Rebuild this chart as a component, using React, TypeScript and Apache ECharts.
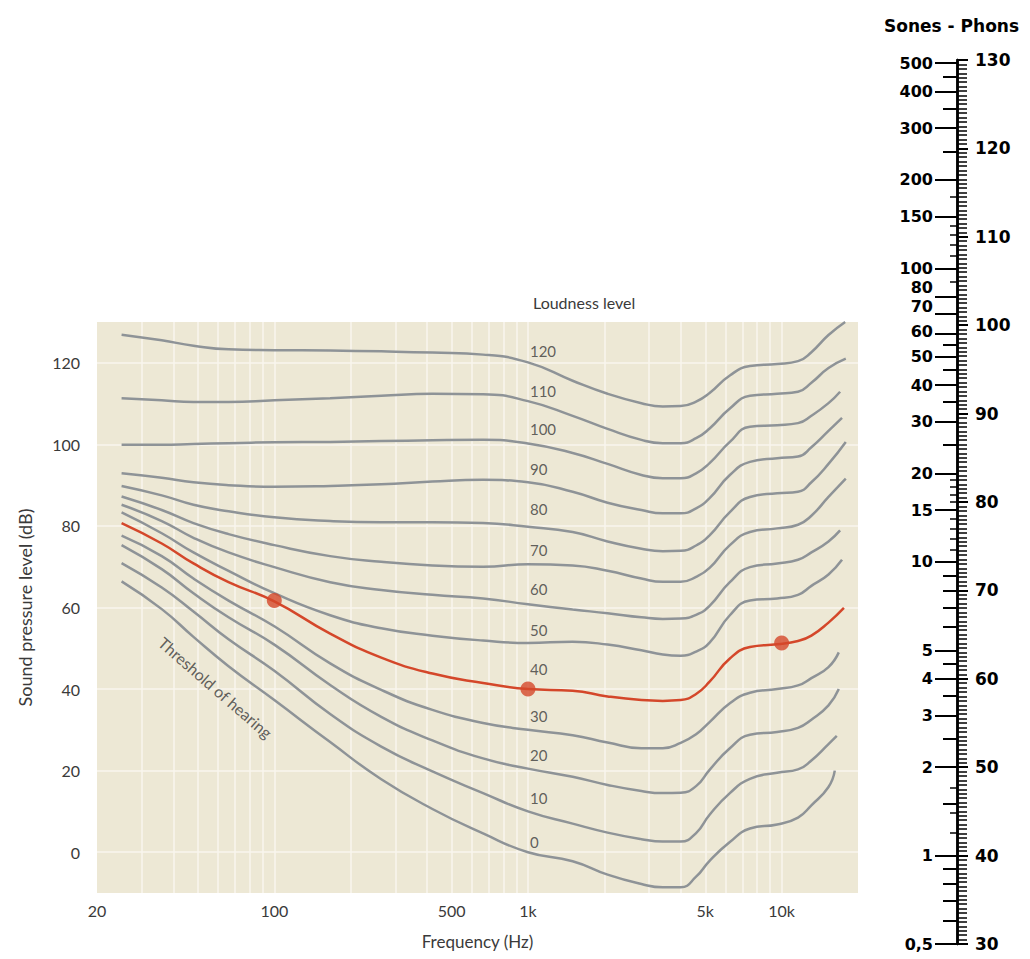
import React, { useEffect, useRef } from 'react';
import * as echarts from 'echarts';

// ---- Equal-loudness contours (frequency grid in Hz, levels in dB SPL) ----
const FREQ = [25, 36, 48, 66, 100, 166, 264, 420, 665, 1000, 1500, 2060, 2800, 3400, 4000, 4600, 5200, 6250, 7500, 9600, 11600, 13100, 15300];

const L120 = [126.9, 125.5, 124.2, 123.3, 123.1, 123.0, 122.8, 122.5, 122.0, 120.1, 115.6, 112.4, 110.1, 109.3, 109.4, 110.5, 112.6, 116.9, 119.2, 119.7, 120.4, 122.6, 126.8];
const L110 = [111.3, 110.8, 110.4, 110.4, 110.8, 111.3, 111.9, 112.4, 112.3, 110.6, 107.0, 103.8, 101.1, 100.3, 100.3, 101.5, 103.9, 108.8, 111.9, 112.4, 112.9, 115.1, 118.7];
const L100 = [99.9, 99.9, 100.1, 100.3, 100.5, 100.6, 100.8, 101.0, 101.1, 100.2, 97.9, 95.2, 92.5, 91.7, 91.7, 92.9, 95.4, 100.6, 104.3, 104.7, 105.2, 107.0, 110.1];
const L90 = [92.9, 91.8, 90.7, 90.0, 89.6, 89.8, 90.2, 90.9, 91.3, 90.7, 88.4, 85.7, 83.9, 83.1, 83.1, 84.3, 86.8, 92.5, 95.7, 96.6, 97.0, 99.3, 103.3];
const L80 = [89.8, 87.5, 85.2, 83.6, 82.1, 81.2, 80.9, 80.9, 80.7, 79.8, 78.5, 76.2, 74.4, 73.8, 73.9, 75.2, 77.7, 83.4, 87.1, 88.0, 88.4, 90.7, 95.2];
const L70 = [87.2, 83.9, 80.7, 78.0, 75.3, 72.6, 71.2, 70.3, 70.0, 70.6, 70.3, 69.0, 67.1, 66.3, 66.3, 67.5, 69.7, 75.3, 78.5, 79.4, 80.3, 82.5, 87.1];
const L60 = [85.2, 81.2, 77.1, 73.5, 69.9, 66.2, 64.3, 63.1, 62.2, 60.8, 59.5, 58.6, 57.6, 57.2, 57.3, 58.2, 60.4, 66.2, 69.9, 70.8, 71.7, 73.5, 76.2];
const L50 = [83.3, 78.2, 73.5, 69.0, 63.5, 58.1, 54.9, 53.1, 51.9, 51.3, 51.6, 50.9, 49.5, 48.5, 48.2, 49.2, 51.4, 58.1, 61.7, 62.2, 63.1, 65.3, 68.1];
const L40 = [80.7, 75.7, 70.8, 66.2, 61.5, 53.6, 47.7, 43.8, 41.5, 40.0, 39.6, 38.2, 37.3, 37.1, 37.3, 38.8, 41.8, 47.5, 50.3, 51.0, 51.8, 53.1, 56.3];
const L30 = [77.6, 72.6, 67.1, 61.7, 55.4, 46.3, 39.8, 34.9, 31.7, 30.0, 28.7, 26.9, 25.5, 25.5, 26.8, 28.9, 31.9, 36.5, 39.1, 40.0, 40.9, 42.7, 45.4];
const L20 = [75.3, 69.4, 63.5, 57.6, 50.9, 41.0, 33.2, 27.4, 23.0, 20.5, 18.5, 16.5, 15.0, 14.5, 14.6, 16.2, 20.2, 25.5, 28.8, 29.5, 30.5, 32.5, 36.0];
const L10 = [70.9, 64.9, 59.0, 52.2, 44.5, 33.9, 25.9, 19.8, 14.5, 10.0, 7.0, 4.8, 3.2, 2.6, 2.6, 4.7, 9.2, 14.5, 18.0, 19.5, 20.3, 22.5, 26.5];
const L0 = [66.4, 59.6, 52.8, 45.6, 37.3, 27.0, 17.9, 10.6, 4.6, 0.0, -2.2, -5.5, -7.8, -8.6, -8.6, -6.0, -2.1, 2.5, 5.8, 6.8, 8.5, 11.5, 16.0];

const PHONS = [120, 110, 100, 90, 80, 70, 60, 50, 40, 30, 20, 10, 0];
const CURVES = [L120, L110, L100, L90, L80, L70, L60, L50, L40, L30, L20, L10, L0];
const END_FREQ = [17800, 17900, 17000, 17300, 17900, 17900, 17000, 17300, 17600, 16800, 16800, 16500, 16200];
const END_DB = [130, 121.0, 112.9, 106.5, 100.6, 91.6, 78.9, 71.7, 59.9, 49.0, 40.0, 28.5, 20.0];
const HIGHLIGHT_PHON = 40;

// curve labels at 1 kHz
const LABEL_FREQ_1K = 1000;
const LABEL_DB = [123.0, 113.2, 103.7, 93.9, 84.1, 74.0, 64.5, 54.4, 44.9, 33.3, 23.8, 13.2, 2.5];

// highlighted points on the 40-phon contour
const MARKER_FREQ = [100, 1000, 10000];
const MARKER_DB = [61.7, 40, 51.3];

// threshold text anchor
const THRESH_FREQ = 58.6;
const THRESH_DB = 40.4;

// axes
const X_LABELS = [20, 100, 500, 1000, 5000, 10000];
const X_GRID = [30, 40, 50, 60, 70, 80, 90, 100, 200, 300, 400, 500, 600, 700, 800, 900, 1000, 2000, 3000, 4000, 5000, 6000, 7000, 8000, 9000, 10000];
const Y_TICKS = [0, 20, 40, 60, 80, 100, 120];

// sones - phons nomogram
const SONE_LABELS = [0.5, 1, 2, 3, 4, 5, 10, 15, 20, 30, 40, 50, 60, 70, 80, 100, 150, 200, 300, 400, 500];
const SONE_MID = [0.6, 0.7, 0.8, 0.9, 1.5, 2.5, 3.5, 4.5, 6, 7, 8, 9, 25, 35, 45, 55, 250, 350, 450];
const SONE_SMALL = [1.2, 1.4, 1.7, 11, 12, 13, 14, 16, 17, 18, 19, 90, 110, 120, 130, 140, 175];
// crowded sone labels are lifted a little, as in the printed scale (padding in px)
const SONE_LIFT: Record<string, number> = { '80': 18, '70': 14, '60': 4 };

const lg = (f: number) => Math.log10(f);
const toPhon = (s: number) => 40 + 10 * Math.log2(s);

const GRAY = '#8e9397';
const ORANGE = '#d4472a';
const TXT = '#3a3a3a';
const MAIN_FONT = 'Lato, "Open Sans", sans-serif';
const SCALE_FONT = '"DejaVu Sans", sans-serif';

function buildOption() {
  const curveSeries = CURVES.map((vals, i) => {
    const data = FREQ.map((f, j) => [lg(f), vals[j]]);
    data.push([lg(END_FREQ[i]), END_DB[i]]);
    const hi = PHONS[i] === HIGHLIGHT_PHON;
    return {
      type: 'line',
      name: PHONS[i] + ' phon',
      xAxisIndex: 0,
      yAxisIndex: 0,
      data,
      smooth: 0.5,
      symbol: 'none',
      silent: true,
      z: hi ? 4 : 3,
      lineStyle: { color: hi ? ORANGE : GRAY, width: 2.5 },
    };
  });

  const yBase = {
    gridIndex: 1,
    type: 'value',
    min: 30,
    max: 130,
    splitLine: { show: false },
  };

  const scaleText = { color: '#000', fontFamily: SCALE_FONT, fontWeight: 'bold', fontSize: 16 };
  const soneRich: Record<string, any> = {};
  Object.keys(SONE_LIFT).forEach((k) => {
    soneRich['s' + k] = { ...scaleText, padding: [0, 0, SONE_LIFT[k], 0] };
  });

  return {
    animation: false,
    backgroundColor: '#ffffff',
    title: [
      {
        text: 'Loudness level',
        left: 533,
        top: 294,
        padding: 0,
        textStyle: { fontFamily: MAIN_FONT, fontSize: 16, fontWeight: 'normal', color: TXT },
      },
      {
        text: 'Sones - Phons',
        left: 884,
        top: 17,
        padding: 0,
        textStyle: { fontFamily: SCALE_FONT, fontSize: 17, fontWeight: 'bold', color: '#000' },
      },
    ],
    grid: [
      {
        left: 97, top: 322, width: 761, height: 571,
        show: true, backgroundColor: '#ede8d5', borderWidth: 0, borderColor: 'transparent',
        containLabel: false, outerBoundsMode: 'none',
      },
      { left: 957, top: 60, width: 1, height: 884, show: false, containLabel: false, outerBoundsMode: 'none' },
    ],
    xAxis: [
      {
        gridIndex: 0,
        type: 'value',
        min: lg(20),
        max: lg(20000),
        axisLine: { show: false },
        axisTick: { show: false, customValues: X_GRID.map(lg) },
        splitLine: { show: true, lineStyle: { color: '#f9f6ee', width: 1.5 } },
        axisLabel: {
          customValues: X_LABELS.map(lg),
          formatter: (v: number) => {
            const f = Math.round(Math.pow(10, v));
            return f >= 1000 ? f / 1000 + 'k' : String(f);
          },
          color: TXT,
          fontFamily: MAIN_FONT,
          fontSize: 16,
          margin: 9,
        },
        name: 'Frequency (Hz)',
        nameLocation: 'middle',
        nameGap: 40,
        nameTextStyle: { color: TXT, fontFamily: MAIN_FONT, fontSize: 17 },
      },
      { gridIndex: 1, type: 'value', min: 0, max: 1, show: false },
    ],
    yAxis: [
      {
        gridIndex: 0,
        type: 'value',
        min: -10,
        max: 130,
        axisLine: { show: false },
        axisTick: { show: false, customValues: Y_TICKS },
        splitLine: { show: true, lineStyle: { color: '#f9f6ee', width: 1.5 } },
        axisLabel: {
          customValues: Y_TICKS,
          color: TXT,
          fontFamily: MAIN_FONT,
          fontSize: 16,
          margin: 17,
        },
        name: 'Sound pressure level (dB)',
        nameLocation: 'middle',
        nameGap: 63,
        nameRotate: 90,
        nameTextStyle: { color: TXT, fontFamily: MAIN_FONT, fontSize: 18 },
      },
      {
        ...yBase,
        position: 'right',
        interval: 10,
        axisLine: { show: true, lineStyle: { color: '#000', width: 2.5 } },
        axisTick: { show: true, length: 11, lineStyle: { color: '#000', width: 2 } },
        minorTick: { show: true, splitNumber: 20, length: 10, lineStyle: { color: '#000', width: 1.5 } },
        axisLabel: { margin: 17, ...scaleText, fontSize: 17 },
      },
      {
        ...yBase,
        position: 'left',
        axisLine: { show: true, lineStyle: { color: '#000', width: 2.5 } },
        axisTick: { show: true, length: 22, customValues: SONE_LABELS.map(toPhon), lineStyle: { color: '#000', width: 2 } },
        axisLabel: {
          customValues: SONE_LABELS.map(toPhon),
          formatter: (v: number) => {
            const s = Math.round(Math.pow(2, (v - 40) / 10) * 10) / 10;
            const txt = String(s).replace('.', ',');
            return SONE_LIFT[txt] ? '{s' + txt + '|' + txt + '}' : txt;
          },
          rich: soneRich,
          margin: 24,
          ...scaleText,
        },
      },
      {
        ...yBase,
        position: 'left',
        axisLine: { show: false },
        axisLabel: { show: false },
        axisTick: { show: true, length: 14, customValues: SONE_MID.map(toPhon), lineStyle: { color: '#000', width: 2 } },
      },
      {
        ...yBase,
        position: 'left',
        axisLine: { show: false },
        axisLabel: { show: false },
        axisTick: { show: true, length: 7, customValues: SONE_SMALL.map(toPhon), lineStyle: { color: '#000', width: 1.5 } },
      },
    ],
    series: [
      ...curveSeries,
      {
        type: 'scatter',
        name: 'markers',
        xAxisIndex: 0,
        yAxisIndex: 0,
        symbol: 'circle',
        symbolSize: 15,
        silent: true,
        z: 5,
        itemStyle: { color: ORANGE },
        data: MARKER_FREQ.map((f, i) => [lg(f), MARKER_DB[i]]),
      },
      {
        type: 'scatter',
        name: 'curve labels',
        xAxisIndex: 0,
        yAxisIndex: 0,
        symbolSize: 0,
        silent: true,
        z: 6,
        data: PHONS.map((p, i) => ({ name: String(p), value: [lg(LABEL_FREQ_1K), LABEL_DB[i]] })),
        label: {
          show: true,
          formatter: '{b}',
          position: 'right',
          distance: 2,
          color: TXT,
          fontFamily: MAIN_FONT,
          fontSize: 15,
        },
      },
      {
        type: 'scatter',
        name: 'threshold label',
        xAxisIndex: 0,
        yAxisIndex: 0,
        symbolSize: 0,
        silent: true,
        z: 6,
        data: [{ name: 'Threshold of hearing', value: [lg(THRESH_FREQ), THRESH_DB] }],
        label: {
          show: true,
          formatter: '{b}',
          position: 'inside',
          rotate: -41,
          color: TXT,
          fontFamily: MAIN_FONT,
          fontSize: 16,
        },
      },
    ],
  };
}

export default function App() {
  const ref = useRef<HTMLDivElement>(null);
  useEffect(() => {
    if (!ref.current) return;
    const chart = echarts.init(ref.current, undefined, { renderer: 'svg' });
    chart.setOption(buildOption() as any);
    return () => chart.dispose();
  }, []);
  return (
    <div
      ref={ref}
      style={{ position: 'fixed', left: 0, top: 0, width: 1030, height: 959, background: '#fff' }}
    />
  );
}
